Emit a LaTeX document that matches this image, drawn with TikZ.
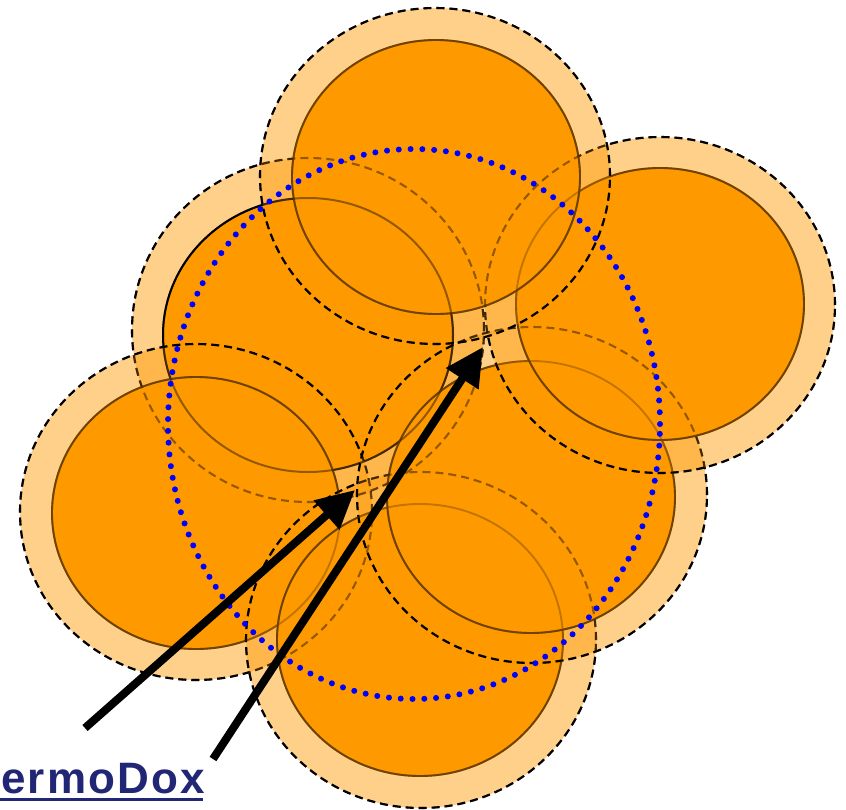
\documentclass[tikz,border=0pt]{standalone}
\usepackage{fontspec}
\setmainfont{Liberation Sans}
\newfontfamily\lblfont[LetterSpace=5]{Liberation Sans}
\usetikzlibrary{arrows.meta}
\definecolor{core}{RGB}{255,153,0}
\definecolor{coreline}{RGB}{112,66,0}
\definecolor{navytxt}{RGB}{33,38,117}
\tikzset{
  halofill/.style={fill=core, fill opacity=0.46},
  corefill/.style={fill=core},
  haloline/.style={draw=black, line width=2.1pt, dash pattern=on 8pt off 5pt},
  corelinestyle/.style={draw=coreline, line width=1.9pt},
  blackcore/.style={draw=black, line width=2pt},
  bluedots/.style={draw=blue, line width=6pt, line cap=round, dash pattern=on 0pt off 11.8pt},
  bigarrow/.style={line width=8pt, -{Triangle[length=38pt,width=37pt]}},
}
% #1,#2 halo centre; #3,#4 halo radii; #5,#6 core centre; #7,#8 core radii; #9 core line style
\newcommand\partfill[9]{%
  \path[halofill] (#1,#2) ellipse [x radius=#3pt, y radius=#4pt];
  \path[corefill] (#5,#6) ellipse [x radius=#7pt, y radius=#8pt];
  \path[haloline] (#1,#2) ellipse [x radius=#3pt, y radius=#4pt];
  \path[#9] (#5,#6) ellipse [x radius=#7pt, y radius=#8pt];
}
\newcommand\partlines[9]{%
  \path[haloline] (#1,#2) ellipse [x radius=#3pt, y radius=#4pt];
  \path[#9] (#5,#6) ellipse [x radius=#7pt, y radius=#8pt];
}
\begin{document}
\begin{tikzpicture}[x=1pt,y=-1pt]
\fill[white] (0,0) rectangle (846,809);
\useasboundingbox (0,0) rectangle (846,809);
% particles in drawing order: B, D, F, E, C, A
\partfill{308}{330}{176}{172}{308}{335}{145}{137}{blackcore}
\partfill{196}{512}{176}{168}{196}{513}{144}{136}{corelinestyle}
\partfill{421}{640}{175}{168}{420}{640}{143}{136}{corelinestyle}
\partfill{532}{495}{175}{168}{531}{497}{144}{136}{corelinestyle}
\partfill{660}{305}{175}{168}{660}{304}{144}{136}{corelinestyle}
\partfill{435}{176}{175}{168}{436}{177}{144}{137}{corelinestyle}
% faded lines showing through
\begin{scope}[opacity=0.42]
\partlines{308}{330}{176}{172}{308}{335}{145}{137}{blackcore}
\partlines{196}{512}{176}{168}{196}{513}{144}{136}{corelinestyle}
\partlines{421}{640}{175}{168}{420}{640}{143}{136}{corelinestyle}
\partlines{532}{495}{175}{168}{531}{497}{144}{136}{corelinestyle}
\partlines{660}{305}{175}{168}{660}{304}{144}{136}{corelinestyle}
\partlines{435}{176}{175}{168}{436}{177}{144}{137}{corelinestyle}
\end{scope}
% blue dotted envelope
\path[bluedots] (414,424) ellipse [x radius=246pt, y radius=275pt];
% arrows
\coordinate (t1) at (85,728);
\coordinate (h1) at (355,490);
\coordinate (t2) at (213,759);
\coordinate (h2) at (483,347);
\draw[bigarrow] (t1) -- (h1);
\draw[bigarrow] (t2) -- (h2);
% label
\node[anchor=base west, inner sep=0pt, text=navytxt, font=\lblfont\bfseries\fontsize{44pt}{44pt}\selectfont] (lbl) at (1,793) {ermoDox};
\coordinate (ula) at (0,799.5);
\coordinate (ulb) at (203,799.5);
\draw[navytxt, line width=3pt] (ula) -- (ulb);
\end{tikzpicture}
\end{document}
